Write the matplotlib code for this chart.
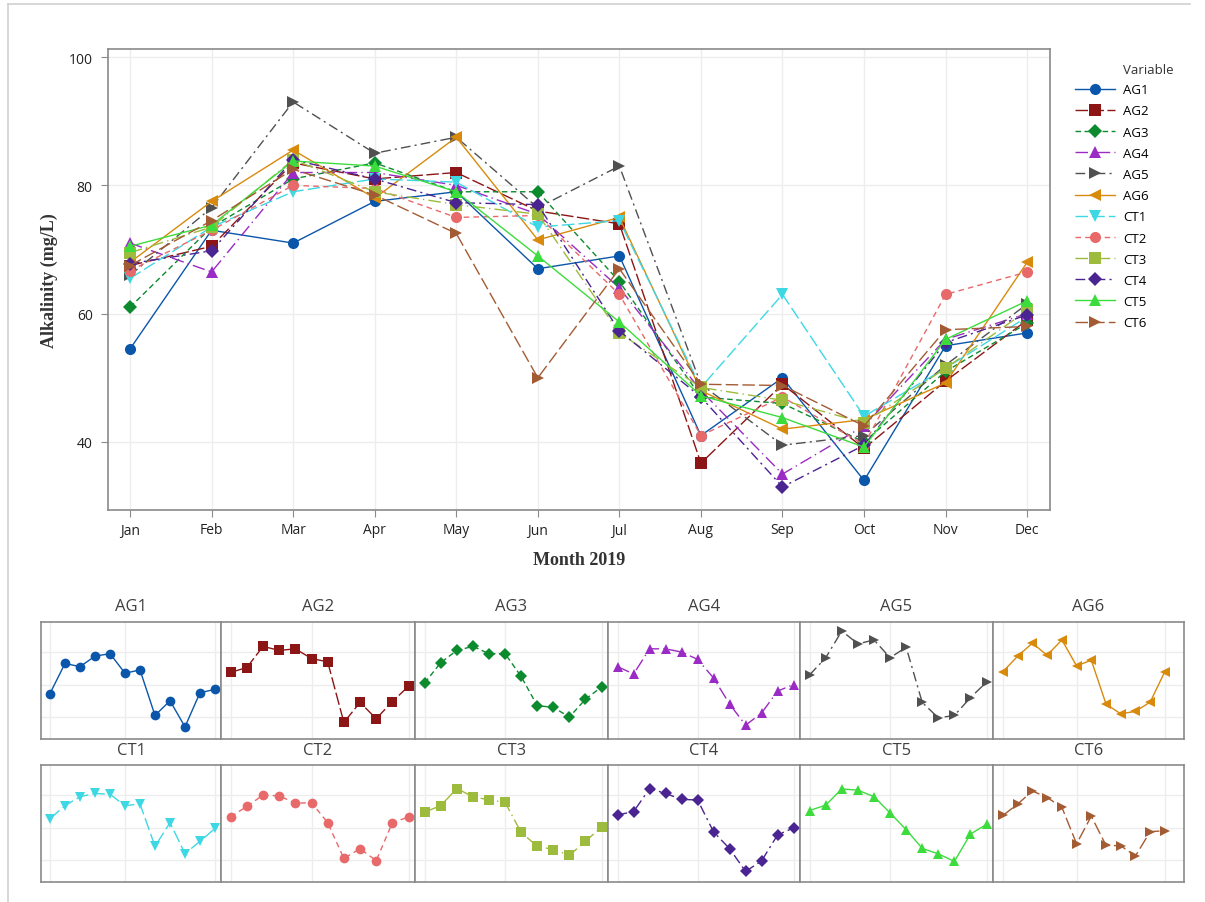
import matplotlib
matplotlib.use("Agg")
import matplotlib.pyplot as plt
from matplotlib.lines import Line2D

# Monthly alkalinity (mg/L), 2019
months = ["Jan", "Feb", "Mar", "Apr", "May", "Jun", "Jul", "Aug", "Sep", "Oct", "Nov", "Dec"]
names = ["AG1", "AG2", "AG3", "AG4", "AG5", "AG6", "CT1", "CT2", "CT3", "CT4", "CT5", "CT6"]

AG1 = [54.5, 73.0, 71.0, 77.5, 79.0, 67.0, 69.0, 41.0, 50.0, 34.0, 55.0, 57.0]
AG2 = [67.5, 70.5, 83.5, 81.0, 82.0, 76.0, 74.0, 36.7, 49.0, 39.0, 49.5, 59.0]
AG3 = [61.0, 73.5, 81.0, 83.5, 79.0, 79.0, 65.0, 47.0, 46.0, 40.0, 51.0, 58.5]
AG4 = [71.0, 66.5, 82.0, 82.0, 80.0, 75.5, 64.0, 48.0, 35.0, 42.5, 56.0, 60.0]
AG5 = [66.0, 76.5, 93.0, 85.0, 87.5, 76.5, 83.0, 49.0, 39.5, 41.0, 52.0, 61.5]
AG6 = [68.0, 77.5, 85.5, 78.0, 87.5, 71.5, 75.0, 48.0, 42.0, 43.5, 49.2, 68.0]
CT1 = [65.5, 73.5, 79.0, 81.0, 80.5, 73.5, 74.5, 48.5, 63.0, 44.0, 51.5, 59.5]
CT2 = [66.7, 73.0, 80.0, 79.5, 75.0, 75.3, 63.0, 41.0, 47.0, 39.6, 63.0, 66.5]
CT3 = [69.5, 73.5, 84.0, 79.0, 77.0, 75.5, 57.0, 48.5, 46.5, 43.0, 51.5, 60.5]
CT4 = [67.8, 69.8, 84.0, 81.0, 77.3, 77.0, 57.3, 47.0, 33.0, 39.5, 55.5, 59.8]
CT5 = [70.5, 73.8, 83.8, 83.0, 79.0, 69.0, 58.7, 47.2, 43.8, 39.2, 56.0, 62.0]
CT6 = [67.5, 74.5, 82.5, 78.5, 72.5, 50.0, 67.0, 49.0, 48.8, 42.5, 57.5, 58.0]

series = [AG1, AG2, AG3, AG4, AG5, AG6, CT1, CT2, CT3, CT4, CT5, CT6]

colors = ["#0A56AA", "#8C1515", "#0B8A2E", "#9A2BC4", "#505050", "#D88A0C",
          "#3ED8E4", "#E8696A", "#9DBB3C", "#4A2491", "#3DDC3D", "#A35B33"]
markers = ["o", "s", "D", "^", ">", "<", "v", "o", "s", "D", "^", ">"]
styles = ["-", (0, (9, 2.5)), (0, (4, 2.5)), (0, (9, 3, 1, 3)), (0, (7, 3, 1.5, 3)), "-",
          (0, (9, 3)), (0, (4, 3)), (0, (9, 3, 1, 3)), (0, (7, 3, 1.5, 3)), "-", (0, (9, 3))]

W, H = 1205, 903
fig = plt.figure(figsize=(W / 100, H / 100), dpi=100)
fig.patch.set_facecolor("white")


def box(x0, y0, x1, y1):
    """Pixel box (top-left origin) to figure fraction rect."""
    return [x0 / W, 1 - y1 / H, (x1 - x0) / W, (y1 - y0) / H]


tick_font = "Open Sans"
frame_col = "#8A8A8A"
grid_col = "#EDEDED"
x = list(range(len(months)))

# ---- main overlay chart ----
ax = fig.add_axes(box(108, 50, 1050, 511))
for vals, name, c, m, ls in zip(series, names, colors, markers, styles):
    ms = 7 if m == "D" else 8
    ax.plot(x, vals, color=c, marker=m, linestyle=ls, linewidth=1.0,
            markersize=ms, markeredgewidth=0, label=name, zorder=3)

ax.set_xlim(-0.27, 11.28)
ax.set_ylim(29.4, 101.25)
ax.set_xticks(x)
ax.set_xticklabels(months, fontsize=10, family=tick_font)
ax.set_yticks([40, 60, 80, 100])
ax.set_yticklabels(["40", "60", "80", "100"], fontsize=10, family=tick_font)
ax.grid(True, color=grid_col, linewidth=1.0, zorder=0)
ax.set_axisbelow(True)
for s in ax.spines.values():
    s.set_color(frame_col)
    s.set_linewidth(1.2)
ax.tick_params(axis="both", direction="out", length=5, color=frame_col,
               colors="#222222", pad=6)
ax.tick_params(axis="x", pad=4)
ax.set_xlabel("Month 2019", family="Liberation Serif", fontweight="bold",
              fontsize=13, color="#333333", labelpad=10)
ax.set_ylabel("Alkalinity (mg/L)", family="Liberation Serif", fontweight="bold",
              fontsize=13, color="#333333", labelpad=8)

# legend
handles = [Line2D([0], [0], color=c, marker=m, linestyle=ls, linewidth=1.0,
                  markersize=(7 if m == "D" else 8), markeredgewidth=0)
           for c, m, ls in zip(colors, markers, styles)]
fig.legend(handles, names, loc="upper left",
           bbox_to_anchor=(1070 / W, 1 - 79 / H), frameon=False,
           prop={"family": tick_font, "size": 9.5}, handlelength=3.0,
           handletextpad=0.6, labelspacing=0.62, borderaxespad=0)
fig.text(1123 / W, 1 - 70 / H, "Variable", family=tick_font, fontsize=9.5,
         color="#333333", va="center", ha="left")

# ---- small multiples ----
edges = [41, 221, 415, 608, 800, 993, 1184]
rows = [(623, 740, 607), (766, 883, 751)]
for i, (vals, name, c, m, ls) in enumerate(zip(series, names, colors, markers, styles)):
    r, k = divmod(i, 6)
    top, bot, ty = rows[r]
    sax = fig.add_axes(box(edges[k], top, edges[k + 1], bot))
    ms = 6 if m == "D" else 7
    sax.plot(x, vals, color=c, marker=m, linestyle=ls, linewidth=1.0,
             markersize=ms, markeredgewidth=0, zorder=3)
    if k == 5:
        sax.set_xlim(-0.68, 12.3)
    else:
        sax.set_xlim(-0.6, 11.4)
    sax.set_ylim(26.5, 98.5)
    sax.set_xticks([0, 5, 11])
    sax.set_yticks([40, 60, 80])
    sax.grid(True, color=grid_col, linewidth=1.0, zorder=0)
    sax.tick_params(length=0, labelbottom=False, labelleft=False)
    for s in sax.spines.values():
        s.set_color(frame_col)
        s.set_linewidth(1.2)
    fig.text((edges[k] + edges[k + 1]) / 2 / W, 1 - ty / H, name,
             family=tick_font, fontsize=12, color="#404040",
             ha="center", va="center")

# page border lines
fig.add_artist(Line2D([8 / W, 8 / W], [0, 1 - 5 / H], color="#D0D0D0", linewidth=1.2))
fig.add_artist(Line2D([8 / W, 1190 / W], [1 - 5 / H, 1 - 5 / H], color="#D0D0D0", linewidth=1.2))

fig.savefig("out.png", dpi=100, facecolor="white")
